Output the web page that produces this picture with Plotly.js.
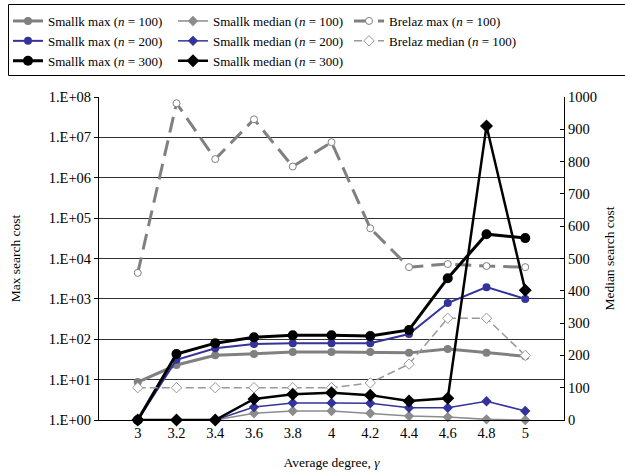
<!DOCTYPE html>
<html>
<head>
<meta charset="utf-8">
<script src="https://cdn.plot.ly/plotly-3.0.1.min.js"></script>
<style>html,body{margin:0;padding:0;background:#fff;}#chart{width:625px;height:472px;}</style>
</head>
<body>
<div id="chart"></div>
<script>
const degrees = [3, 3.2, 3.4, 3.6, 3.8, 4, 4.2, 4.4, 4.6, 4.8, 5];
const degreeLabels = ['3','3.2','3.4','3.6','3.8','4','4.2','4.4','4.6','4.8','5'];

// Max search cost (left, log axis)
const smallkMax100 = [8.7, 23, 40, 43, 48, 48, 48, 46, 57, 46, 38];
const smallkMax200 = [1, 31, 60, 76, 80, 80, 80, 135, 790, 1950, 1000];
const smallkMax300 = [1, 43, 80, 112, 126, 126, 120, 170, 3250, 40000, 32000];
const brelazMax100 = [4400, 7.0e7, 2.9e6, 2.8e7, 1.9e6, 7.6e6, 56000, 6100, 7300, 6500, 6100];

// Median search cost (right, linear axis)
const smallkMed100 = [0, 0, 0, 21, 28, 28, 21, 12, 9, 2, 0];
const smallkMed200 = [0, 0, 0, 40, 53, 53, 52, 38, 38, 58, 28];
const smallkMed300 = [0, 0, 0, 65, 80, 84, 77, 59, 67, 910, 402];
const brelazMed100 = [100, 100, 100, 100, 100, 100, 115, 173, 315, 315, 200];

const leftTicks = [1, 10, 100, 1000, 1e4, 1e5, 1e6, 1e7, 1e8];
const leftTickText = ['1.E+00','1.E+01','1.E+02','1.E+03','1.E+04','1.E+05','1.E+06','1.E+07','1.E+08'];

const GREY = '#808080', BLUE = '#333399', BLACK = '#000000';
const serif = "'Liberation Serif', 'Times New Roman', Times, serif";
const tickFont = {family: serif, size: 14.5, color: '#000'};
const titleFont = {family: serif, size: 13.5, color: '#000'};

function tr(name, y, axis, legend, color, width, dash, symbol, size, fill) {
  return {
    x: degrees, y: y, yaxis: axis, name: name, legend: legend, type: 'scatter', mode: 'lines+markers',
    cliponaxis: false,
    line: {color: color, width: width, dash: dash},
    marker: {symbol: symbol, size: size, color: fill || color, line: {color: color, width: fill ? 1 : 0}}
  };
}

const data = [
  tr('Brelaz max (<i>n</i> = 100)', brelazMax100, 'y', 'legend3', GREY, 3, '16px,8px', 'circle', 7, '#ffffff'),
  tr('Brelaz median (<i>n</i> = 100)', brelazMed100, 'y2', 'legend3', '#999999', 1.5, '8px,4px', 'diamond', 8, '#ffffff'),
  tr('Smallk max (<i>n</i> = 100)', smallkMax100, 'y', 'legend', GREY, 3, 'solid', 'circle', 8),
  tr('Smallk max (<i>n</i> = 200)', smallkMax200, 'y', 'legend', BLUE, 2, 'solid', 'circle', 8),
  tr('Smallk max (<i>n</i> = 300)', smallkMax300, 'y', 'legend', BLACK, 3, 'solid', 'circle', 10),
  tr('Smallk median (<i>n</i> = 100)', smallkMed100, 'y2', 'legend2', '#8c8c8c', 1.5, 'solid', 'diamond', 8),
  tr('Smallk median (<i>n</i> = 200)', smallkMed200, 'y2', 'legend2', BLUE, 1.5, 'solid', 'diamond', 8),
  tr('Smallk median (<i>n</i> = 300)', smallkMed300, 'y2', 'legend2', BLACK, 2.5, 'solid', 'diamond', 10)
];

// plot area: x 99..564 (465 px), y 97..420 (323 px)
function px(x) { return (x - 99) / 465; }
function py(y) { return (420 - y) / 323; }

function leg(xpix) {
  return {
    orientation: 'v', x: px(xpix), y: py(6), xanchor: 'left', yanchor: 'top',
    borderwidth: 0, bgcolor: 'rgba(0,0,0,0)', tracegroupgap: 0,
    font: {family: serif, size: 13, color: '#000'}, traceorder: 'normal'
  };
}

const layout = {
  width: 625, height: 472,
  margin: {l: 99, r: 61, t: 97, b: 52, autoexpand: false},
  paper_bgcolor: '#ffffff', plot_bgcolor: '#ffffff',
  font: {family: serif, size: 13, color: '#000'},
  showlegend: true,
  legend: leg(8),
  legend2: leg(173),
  legend3: leg(349),
  shapes: [{
    type: 'rect', xref: 'paper', yref: 'paper',
    x0: px(8.5), x1: px(627), y0: py(75.5), y1: py(4.5),
    line: {color: '#000', width: 1}, fillcolor: 'rgba(0,0,0,0)'
  }],
  xaxis: {
    range: [2.8, 5.2], tickvals: degrees, ticktext: degreeLabels,
    showgrid: false, zeroline: false, showline: true, linecolor: '#000', linewidth: 1,
    ticks: '', tickfont: tickFont,
    title: {text: 'Average degree, <i>γ</i>', font: titleFont, standoff: 17}
  },
  yaxis: {
    type: 'log', range: [0, 8], tickvals: leftTicks, ticktext: leftTickText,
    showgrid: true, gridcolor: '#303030', gridwidth: 1, zeroline: false,
    showline: true, linecolor: '#000', linewidth: 1,
    ticks: 'outside', ticklen: 4, tickcolor: '#000',
    tickfont: tickFont,
    title: {text: 'Max search cost', font: titleFont, standoff: 24}
  },
  yaxis2: {
    overlaying: 'y', side: 'right', range: [0, 1000], dtick: 100, tick0: 0,
    showgrid: false, zeroline: false, showline: true, linecolor: '#000', linewidth: 1,
    ticks: 'inside', ticklen: 4, tickcolor: '#000',
    tickfont: tickFont,
    title: {text: 'Median search cost', font: titleFont, standoff: 8}
  }
};

Plotly.newPlot('chart', data, layout, {displayModeBar: false, staticPlot: true});
</script>
</body>
</html>
